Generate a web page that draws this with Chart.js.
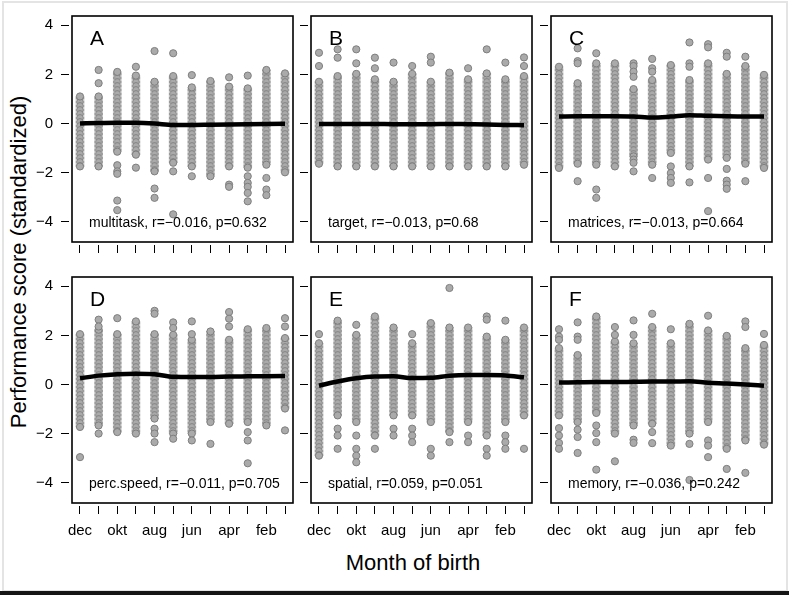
<!DOCTYPE html>
<html>
<head>
<meta charset="utf-8">
<script src="https://cdn.jsdelivr.net/npm/chart.js@4.4.1/dist/chart.umd.min.js"></script>
<style>
  body { margin: 0; background: #fff; font-family: "Liberation Sans", Arial, sans-serif; }
  #wrap { position: relative; width: 789px; height: 595px; overflow: hidden; }
  #frame { position: absolute; left: 2px; top: 1px; width: 782px; height: 587px; border: 2px solid #e4e4e4; }
  #bottomBar { position: absolute; left: 0; top: 591px; width: 789px; height: 4px; background: #151515; }
  canvas { position: absolute; }
  .txt { position: absolute; color: #000; white-space: nowrap; }
  .letter { font-size: 21px; line-height: 21px; }
  .note { font-size: 14px; line-height: 14px; }
</style>
</head>
<body>
<div id="wrap">
  <div id="frame"></div>
  <div id="bottomBar"></div>
  <div class="txt" style="font-size:22px; line-height:26px; width:400px; text-align:center; left:-181px; top:249px; transform:rotate(-90deg);">Performance score (standardized)</div>
  <div class="txt" style="font-size:22px; line-height:26px; width:300px; text-align:center; left:263px; top:550px;">Month of birth</div>
</div>
<script>
// month order as on the x axis
const months = ["dec", "nov", "okt", "sep", "aug", "jul", "jun", "maj", "apr", "mar", "feb", "jan"];
const yTicks = [-4, -2, 0, 2, 4];

// per panel: dense part of each month column (lo..hi), scattered points, smooth fit
// multitask
const multitaskLo = [-1.75, -1.75, -1.15, -1.27, -1.95, -1.6, -1.75, -2.15, -1.75, -1.8, -1.68, -1.99];
const multitaskHi = [1.1, 1.1, 2.1, 1.95, 1.7, 1.93, 1.47, 1.73, 1.5, 1.43, 2.18, 2.04];
const multitaskOut = [[], [2.18, 1.64], [-1.7, -1.95, -2.05, -3.14, -3.53], [2.31, -1.8], [2.95, -2.65, -3.03], [2.86, -1.95, -3.7], [1.97, -2.15], [], [1.88, -2.49, -2.58], [1.95, -2.15, -2.42, -2.58, -2.83, -3.17], [-2.22, -2.69, -2.92], []];
const multitaskFit = [0.0, 0.02, 0.03, 0.03, 0.0, -0.06, -0.06, -0.05, -0.04, -0.03, -0.02, -0.01];

// target
const targetLo = [-1.64, -1.75, -1.75, -1.75, -1.75, -1.75, -1.75, -1.75, -1.75, -1.75, -1.75, -1.68];
const targetHi = [1.7, 1.93, 2.02, 1.8, 1.7, 2.02, 1.7, 2.07, 1.8, 2.04, 1.8, 1.93];
const targetOut = [[2.88, 2.34], [3.02, 2.68], [3.02, 2.45], [2.68, 2.25], [2.48], [2.34], [2.72, 2.48], [], [2.25], [3.02], [2.48], [2.69, 2.34]];
const targetFit = [-0.02, -0.02, -0.02, -0.02, -0.03, -0.03, -0.03, -0.02, -0.03, -0.04, -0.06, -0.07];

// matrices
const matricesLo = [-1.81, -1.64, -1.68, -1.75, -1.34, -1.68, -1.2, -1.75, -1.47, -1.4, -1.64, -1.81];
const matricesHi = [2.31, 1.64, 2.45, 2.45, 1.4, 1.77, 2.38, 1.77, 2.45, 2.02, 2.34, 1.98];
const matricesOut = [[], [3.06, 2.54, 2.45, -2.35], [2.86, -2.69, -3.03], [], [2.45, 2.34, 2.11, 1.9, -1.47, -1.6, -1.95], [2.63, 2.25, 2.11, -2.22], [-1.75, -2.02, -2.22, -2.42], [3.3, 2.45, 2.31, -2.4], [3.23, 3.1, -2.22, -3.57], [2.88, 2.72, -1.85, -2.33, -2.49, -2.66], [2.72, -2.35], []];
const matricesFit = [0.28, 0.29, 0.29, 0.29, 0.28, 0.24, 0.28, 0.34, 0.31, 0.29, 0.28, 0.28];

// perc.speed
const percLo = [-1.73, -1.67, -1.94, -2.0, -1.39, -2.0, -2.0, -1.53, -1.6, -1.53, -1.67, -0.98];
const percHi = [2.05, 2.23, 2.05, 2.57, 2.05, 2.02, 1.82, 2.16, 1.82, 2.25, 2.3, 1.89];
const percOut = [[-2.96], [2.64, 2.36, -2.0], [2.7], [], [3.0, 2.88, -1.8, -2.0, -2.35], [2.53, 2.3, -2.21], [2.57, 2.05, -2.28], [-2.42], [2.95, 2.68, 2.36], [-1.94, -2.28, -3.21], [], [2.7, 2.36, -1.87]];
const percFit = [0.25, 0.36, 0.42, 0.44, 0.42, 0.31, 0.3, 0.3, 0.32, 0.33, 0.34, 0.35];

// spatial
const spatialLo = [-2.9, -1.26, -1.53, -2.08, -1.26, -1.26, -1.53, -1.94, -1.53, -2.08, -1.53, -1.26];
const spatialHi = [1.68, 2.6, 2.02, 2.77, 2.32, 1.68, 2.5, 2.32, 2.32, 1.95, 1.82, 2.32];
const spatialOut = [[2.05], [-1.8, -2.08, -2.62], [2.43, -2.08, -2.62, -2.9, -3.17], [-2.62], [-1.8, -2.08], [2.05, -1.8, -2.08, -2.35], [-2.62, -2.9], [3.93, -2.35], [-2.08, -2.35], [2.77, 2.64, -2.62, -2.9], [2.6, -2.08, -2.35, -2.62], [-2.62]];
const spatialFit = [-0.05, 0.12, 0.25, 0.32, 0.33, 0.26, 0.27, 0.36, 0.39, 0.39, 0.37, 0.29];

// memory
const memoryLo = [-1.26, -1.53, -1.16, -2.0, -1.67, -1.6, -2.49, -2.0, -1.53, -2.62, -2.28, -2.45];
const memoryHi = [1.48, 1.2, 2.77, 1.75, 1.68, 2.34, 1.68, 2.47, 2.2, 1.98, 1.48, 1.61];
const memoryOut = [[2.25, 1.95, 1.82, -1.78, -2.08, -2.38, -2.62], [2.53, 1.95, 1.82, -1.84, -2.14, -2.79], [-1.67, -1.98, -2.35, -3.47], [2.34, 2.02, -3.13], [2.61, 2.02, -2.25, -2.38], [2.88, -1.94, -2.39], [2.25], [-2.42, -3.89], [2.8, -2.28, -2.49, -2.96], [-3.44], [2.57, 2.34, -3.6], [2.06]];
const memoryFit = [0.08, 0.09, 0.1, 0.1, 0.11, 0.12, 0.12, 0.13, 0.07, 0.04, 0.0, -0.05];

const panels = [
  { letter: "A", note: "multitask, r=\u22120.016, p=0.632", lo: multitaskLo, hi: multitaskHi, out: multitaskOut, fit: multitaskFit, col: 0, row: 0 },
  { letter: "B", note: "target, r=\u22120.013, p=0.68", lo: targetLo, hi: targetHi, out: targetOut, fit: targetFit, col: 1, row: 0 },
  { letter: "C", note: "matrices, r=\u22120.013, p=0.664", lo: matricesLo, hi: matricesHi, out: matricesOut, fit: matricesFit, col: 2, row: 0 },
  { letter: "D", note: "perc.speed, r=\u22120.011, p=0.705", lo: percLo, hi: percHi, out: percOut, fit: percFit, col: 0, row: 1 },
  { letter: "E", note: "spatial, r=0.059, p=0.051", lo: spatialLo, hi: spatialHi, out: spatialOut, fit: spatialFit, col: 1, row: 1 },
  { letter: "F", note: "memory, r=\u22120.036, p=0.242", lo: memoryLo, hi: memoryHi, out: memoryOut, fit: memoryFit, col: 2, row: 1 }
];

Chart.defaults.font.family = '"Liberation Sans", Arial, sans-serif';
Chart.defaults.color = '#000';

const boxLefts = [72, 311, 551];
const boxTops = [16, 277];
const boxW = 221, boxH = 226, gap = 3;
const yAxisW = 40, xAxisH = 45, padTop = 5, padRight = 5;

// frame around the plotting region, a little inside the axes like R does
const boxPlugin = {
  id: 'box',
  afterDraw(chart) {
    const a = chart.chartArea, ctx = chart.ctx;
    ctx.save();
    ctx.strokeStyle = '#000';
    ctx.lineWidth = 1.6;
    ctx.strokeRect(a.left + gap, a.top + gap, a.right - a.left - 2 * gap, a.bottom - a.top - 2 * gap);
    ctx.restore();
  }
};

// stacked circles texture for the dense part of a column
function ringPattern(ctx, xc) {
  const t = document.createElement('canvas');
  t.width = 8; t.height = 4;
  const g = t.getContext('2d');
  g.lineWidth = 1;
  [-2, 2, 6].forEach(cy => {
    g.beginPath();
    g.arc(4, cy, 3.4, 0, Math.PI * 2);
    g.fillStyle = '#aaaaaa';
    g.fill();
    g.strokeStyle = '#828282';
    g.stroke();
  });
  const pat = ctx.createPattern(t, 'repeat');
  pat.setTransform(new DOMMatrix().translate(xc - 4, 0));
  return pat;
}

const wrap = document.getElementById('wrap');

panels.forEach(p => {
  const bl = boxLefts[p.col], bt = boxTops[p.row];
  const canvas = document.createElement('canvas');
  canvas.width = yAxisW + boxW + 2 * gap + padRight;
  canvas.height = padTop + boxH + 2 * gap + xAxisH;
  canvas.style.left = (bl - gap - yAxisW) + 'px';
  canvas.style.top = (bt - gap - padTop) + 'px';
  wrap.appendChild(canvas);

  const cores = p.lo.map((l, i) => ({ x: i + 1, y: [l, p.hi[i]] }));
  const dots = [];
  p.lo.forEach((l, i) => {
    dots.push({ x: i + 1, y: l }, { x: i + 1, y: p.hi[i] });
    p.out[i].forEach(v => dots.push({ x: i + 1, y: v }));
  });
  const fitLine = p.fit.map((v, i) => ({ x: i + 1, y: v }));

  new Chart(canvas, {
    type: 'bar',
    data: {
      datasets: [
        { type: 'line', data: fitLine, borderColor: '#000', borderWidth: 4.5, pointRadius: 0,
          cubicInterpolationMode: 'monotone', order: 0 },
        { type: 'scatter', data: dots, pointRadius: 3.6, backgroundColor: '#aaaaaa',
          borderColor: '#7e7e7e', borderWidth: 1, order: 1 },
        { type: 'bar', data: cores, barThickness: 8, borderWidth: 0, grouped: false, order: 2,
          backgroundColor: c => {
            if (c.type !== 'data') return '#aaaaaa';
            return ringPattern(c.chart.ctx, c.chart.scales.x.getPixelForValue(c.dataIndex + 1));
          } }
      ]
    },
    options: {
      responsive: false,
      animation: false,
      devicePixelRatio: 1,
      layout: { padding: { top: padTop, right: padRight, left: 0, bottom: 0 } },
      plugins: { legend: { display: false }, tooltip: { enabled: false } },
      scales: {
        x: {
          type: 'linear', min: 0.41, max: 12.59, offset: false,
          afterBuildTicks: s => { s.ticks = months.map((m, i) => ({ value: i + 1 })); },
          afterFit: s => { s.height = xAxisH; s.paddingLeft = 0; s.paddingRight = 0; },
          ticks: {
            autoSkip: false, maxRotation: 0, padding: 8, font: { size: 15 },
            callback: (v, i) => (p.row === 1 && i % 2 === 0) ? months[i] : ''
          },
          grid: { offset: false, drawOnChartArea: false, drawTicks: true, tickLength: 8, color: '#000', lineWidth: 1 },
          border: { display: false }
        },
        y: {
          min: -4.95, max: 4.5,
          afterBuildTicks: s => { s.ticks = yTicks.map(v => ({ value: v })); },
          afterFit: s => { s.width = yAxisW; s.paddingTop = 0; s.paddingBottom = 0; },
          ticks: {
            padding: 8, font: { size: 15 },
            callback: v => p.col === 0 ? (v < 0 ? '\u2212' + Math.abs(v) : String(v)) : ''
          },
          grid: { drawOnChartArea: false, drawTicks: true, tickLength: 8, color: '#000', lineWidth: 1 },
          border: { display: false }
        }
      }
    },
    plugins: [boxPlugin]
  });

  const letter = document.createElement('div');
  letter.className = 'txt letter';
  letter.textContent = p.letter;
  letter.style.left = (bl + 18) + 'px';
  letter.style.top = (bt + 11) + 'px';
  wrap.appendChild(letter);

  const note = document.createElement('div');
  note.className = 'txt note';
  note.textContent = p.note;
  note.style.left = (bl + 17) + 'px';
  note.style.top = (bt + 199) + 'px';
  wrap.appendChild(note);
});
</script>
</body>
</html>
